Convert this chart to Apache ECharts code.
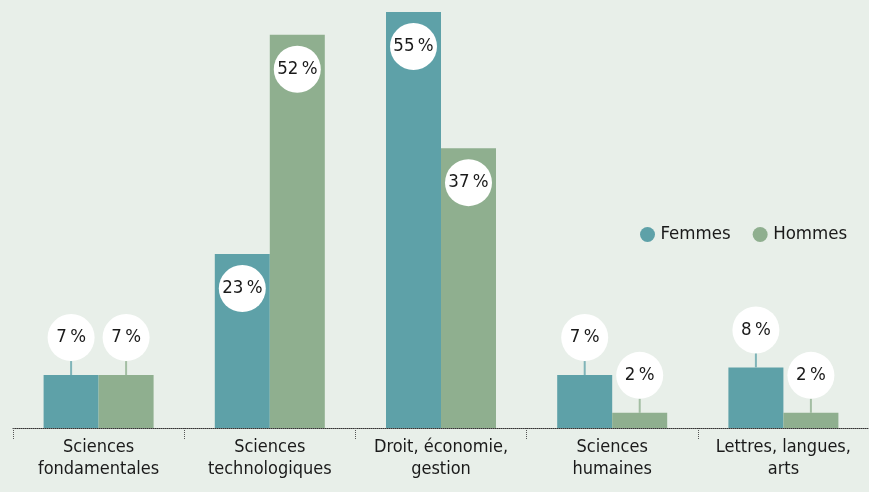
<!DOCTYPE html>
<html>
<head>
<meta charset="utf-8">
<script src="https://cdn.jsdelivr.net/npm/echarts@6/dist/echarts.min.js"></script>
<style>
  html, body { margin: 0; padding: 0; background: #e8efe9; }
  #chart { width: 869px; height: 492px; }
</style>
</head>
<body>
<div id="chart"></div>
<script>
const categories = ['Sciences\nfondamentales', 'Sciences\ntechnologiques', 'Droit, économie,\ngestion', 'Sciences\nhumaines', 'Lettres, langues,\narts'];
const femmes = [7, 23, 55, 7, 8];
const hommes = [7, 52, 37, 2, 2];

const FONT = '"DejaVu Sans Condensed", "DejaVu Sans", sans-serif';
const colFemmes = '#5ea1a8';
const colHommes = '#8faf8f';

// big bars get the bubble inside, small ones get it on a stick above
function makeData(values, stickColor) {
  return values.map(v => {
    const inside = v > 15;
    return {
      value: v,
      label: inside ? {
        show: true,
        position: 'insideTop',
        distance: 11,
        formatter: '{c|' + v + '\u2009%}',
        rich: { c: bubble() }
      } : {
        show: true,
        position: 'top',
        distance: 0,
        formatter: '{c|' + v + '\u2009%}\n{s|}',
        rich: {
          c: bubble(),
          s: { width: 2, height: 14, backgroundColor: stickColor, lineHeight: 14 }
        }
      }
    };
  });
}
function bubble() {
  return {
    width: 47, height: 47, lineHeight: 47, borderRadius: 24,
    backgroundColor: '#fff', align: 'center',
    fontFamily: FONT, fontSize: 18.5, color: '#1a1a1a'
  };
}

const chart = echarts.init(document.getElementById('chart'));
chart.setOption({
  backgroundColor: '#e8efe9',
  animation: false,
  legend: {
    left: 635, top: 220,
    icon: 'circle', itemWidth: 16, itemHeight: 15, itemGap: 22,
    textStyle: { fontFamily: FONT, fontSize: 18.5, color: '#1a1a1a' },
    data: ['Femmes', 'Hommes']
  },
  grid: { left: 13, right: 0, top: 12, bottom: 64 },
  xAxis: {
    type: 'category',
    data: categories,
    axisLine: { lineStyle: { color: '#333', type: 'dotted', width: 1 } },
    axisTick: { show: true, length: 12, lineStyle: { color: '#555', type: 'dotted' } },
    axisLabel: { interval: 0, fontFamily: FONT, fontSize: 18, color: '#1a1a1a', lineHeight: 22, margin: 8 }
  },
  yAxis: { type: 'value', min: 0, max: 55, show: false, splitLine: { show: false } },
  series: [
    { name: 'Femmes', type: 'bar', barWidth: 55, barGap: '0%', itemStyle: { color: colFemmes },
      data: makeData(femmes, '#7fb4b8') },
    { name: 'Hommes', type: 'bar', barWidth: 55, barGap: '0%', itemStyle: { color: colHommes },
      data: makeData(hommes, '#a3bea3') }
  ]
});
</script>
</body>
</html>
